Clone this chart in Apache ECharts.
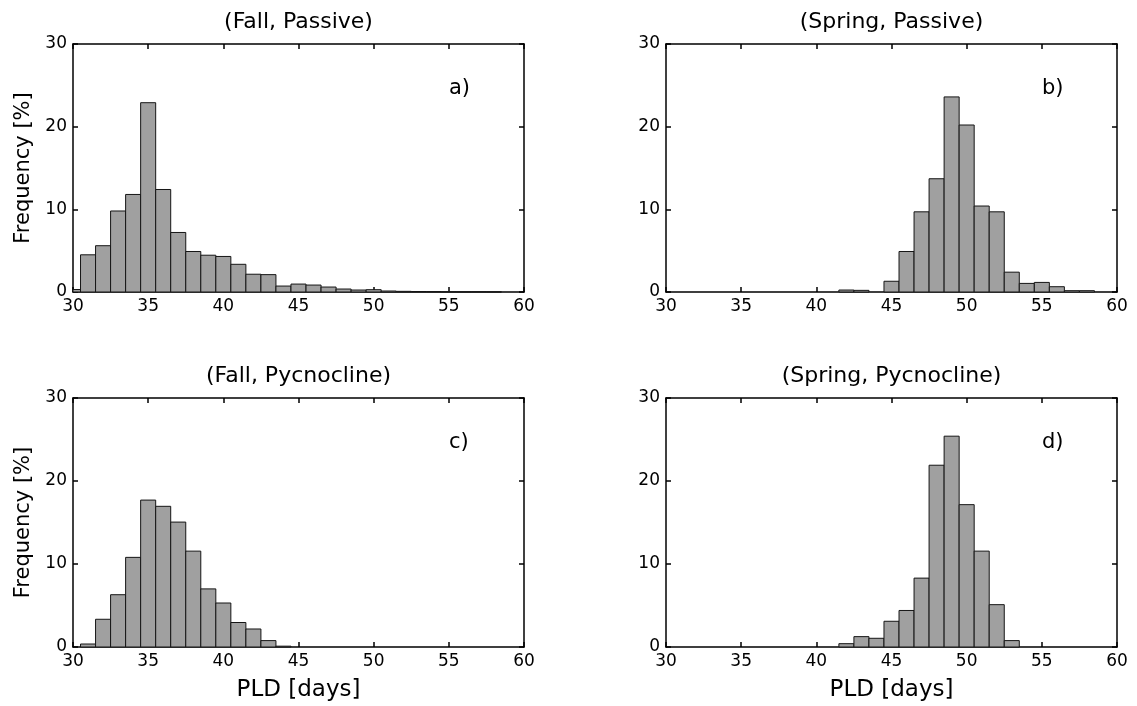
<!DOCTYPE html>
<html>
<head>
<meta charset="utf-8">
<title>PLD histograms</title>
<script src="https://cdn.jsdelivr.net/npm/echarts@6/dist/echarts.min.js"></script>
<style>
  html, body { margin: 0; padding: 0; background: #fff; }
  #chart { width: 1137px; height: 706px; }
</style>
</head>
<body>
<div id="chart"></div>
<script>
// Bin centres (days), one-day bins
const pld = [30, 31, 32, 33, 34, 35, 36, 37, 38, 39, 40, 41, 42, 43, 44, 45,
             46, 47, 48, 49, 50, 51, 52, 53, 54, 55, 56, 57, 58, 59, 60];

// Frequency [%] per bin
const fallPassive = [0.3, 4.5, 5.6, 9.8, 11.8, 22.9, 12.4, 7.2, 4.9, 4.45, 4.3, 3.35, 2.15, 2.1, 0.72, 0.96,
                     0.84, 0.6, 0.36, 0.24, 0.28, 0.12, 0.08, 0.06, 0.05, 0.03, 0.02, 0.03, 0.02, 0, 0];
const springPassive = [0, 0, 0, 0, 0, 0, 0, 0, 0, 0, 0, 0, 0.24, 0.2, 0, 1.3,
                       4.9, 9.7, 13.7, 23.6, 20.2, 10.4, 9.7, 2.4, 1.04, 1.16, 0.64, 0.16, 0.16, 0, 0];
const fallPycnocline = [0, 0.36, 3.34, 6.3, 10.8, 17.7, 16.95, 15.05, 11.55, 7.0, 5.3, 2.95, 2.17, 0.77, 0.1, 0,
                        0, 0, 0, 0, 0, 0, 0, 0, 0, 0, 0, 0, 0, 0, 0];
const springPycnocline = [0, 0, 0, 0, 0, 0, 0, 0, 0, 0, 0, 0, 0.4, 1.25, 1.05, 3.1,
                          4.4, 8.3, 21.9, 25.4, 17.15, 11.55, 5.1, 0.77, 0, 0, 0, 0, 0, 0, 0];

const panelTitles = ['(Fall, Passive)', '(Spring, Passive)', '(Fall, Pycnocline)', '(Spring, Pycnocline)'];
const panelTags = ['a)', 'b)', 'c)', 'd)'];
const xTicks = { min: 30, max: 60, step: 5 };
const yTicks = { min: 0, max: 30, step: 10 };
const xName = 'PLD [days]';
const yName = 'Frequency [%]';

const seriesValues = [fallPassive, springPassive, fallPycnocline, springPycnocline];

// Panel boxes in pixels
const panels = [
  { left: 73, top: 44, width: 451, height: 248 },
  { left: 666, top: 44, width: 451, height: 248 },
  { left: 73, top: 398, width: 451, height: 249 },
  { left: 666, top: 398, width: 451, height: 249 }
];

const FONT = 'DejaVu Sans';
const lineStyle = { color: '#000', width: 1.5 };

const grids = [], xAxes = [], yAxes = [], series = [], graphics = [];

panels.forEach((p, i) => {
  grids.push({ left: p.left, top: p.top, width: p.width, height: p.height, containLabel: false });
  const bottomRow = i >= 2;
  const leftCol = i % 2 === 0;

  // bottom x axis with labels
  xAxes.push({
    gridIndex: i, type: 'value', position: 'bottom',
    min: xTicks.min, max: xTicks.max, interval: xTicks.step,
    axisLine: { show: true, onZero: false, lineStyle },
    axisTick: { show: true, inside: true, length: 5, lineStyle },
    axisLabel: { show: true, fontFamily: FONT, fontSize: 17, color: '#000', margin: 6,
                 showMinLabel: true, showMaxLabel: true },
    splitLine: { show: false },
    name: bottomRow ? xName : '', nameLocation: 'middle', nameGap: 32,
    nameTextStyle: { fontFamily: FONT, fontSize: 23, color: '#000' }
  });
  // top x axis: ticks only
  xAxes.push({
    gridIndex: i, type: 'value', position: 'top',
    min: xTicks.min, max: xTicks.max, interval: xTicks.step,
    axisLine: { show: true, onZero: false, lineStyle },
    axisTick: { show: true, inside: true, length: 5, lineStyle },
    axisLabel: { show: false },
    splitLine: { show: false }
  });
  // left y axis with labels
  yAxes.push({
    gridIndex: i, type: 'value', position: 'left',
    min: yTicks.min, max: yTicks.max, interval: yTicks.step,
    axisLine: { show: true, onZero: false, lineStyle },
    axisTick: { show: true, inside: true, length: 5, lineStyle },
    axisLabel: { show: true, fontFamily: FONT, fontSize: 17, color: '#000', margin: 6 },
    splitLine: { show: false },
    name: leftCol ? yName : '', nameLocation: 'middle', nameGap: 39, nameRotate: 90,
    nameTextStyle: { fontFamily: FONT, fontSize: 21, color: '#000' }
  });
  // right y axis: ticks only
  yAxes.push({
    gridIndex: i, type: 'value', position: 'right',
    min: yTicks.min, max: yTicks.max, interval: yTicks.step,
    axisLine: { show: true, onZero: false, lineStyle },
    axisTick: { show: true, inside: true, length: 5, lineStyle },
    axisLabel: { show: false },
    splitLine: { show: false }
  });

  const data = [];
  pld.forEach((d, k) => { if (seriesValues[i][k] > 0) data.push([d, seriesValues[i][k]]); });

  series.push({
    type: 'custom',
    name: panelTitles[i],
    xAxisIndex: i * 2, yAxisIndex: i * 2,
    data,
    z: 1,
    renderItem: (params, api) => {
      const c = api.value(0), v = api.value(1);
      const p0 = api.coord([c - 0.5, 0]);
      const p1 = api.coord([c + 0.5, v]);
      const cs = params.coordSys;
      const rect = echarts.graphic.clipRectByRect(
        { x: p0[0], y: p1[1], width: p1[0] - p0[0], height: p0[1] - p1[1] },
        { x: cs.x, y: cs.y, width: cs.width, height: cs.height }
      );
      if (!rect) return null;
      return {
        type: 'rect', shape: rect,
        style: { fill: '#a0a0a0', stroke: '#151515', lineWidth: 1 }
      };
    }
  });

  // panel title
  graphics.push({
    type: 'text', x: p.left + p.width / 2, y: p.top - 22,
    style: { text: panelTitles[i], fontFamily: FONT, fontSize: 22, fill: '#000',
             align: 'center', verticalAlign: 'middle' }
  });
  // panel tag
  graphics.push({
    type: 'text', x: p.left + 376, y: p.top + 45,
    style: { text: panelTags[i], fontFamily: FONT, fontSize: 21, fill: '#000',
             align: 'left', verticalAlign: 'middle' }
  });
});

const chart = echarts.init(document.getElementById('chart'), null, { renderer: 'canvas' });
chart.setOption({
  animation: false,
  backgroundColor: '#fff',
  grid: grids,
  xAxis: xAxes,
  yAxis: yAxes,
  series,
  graphic: graphics
});
</script>
</body>
</html>
